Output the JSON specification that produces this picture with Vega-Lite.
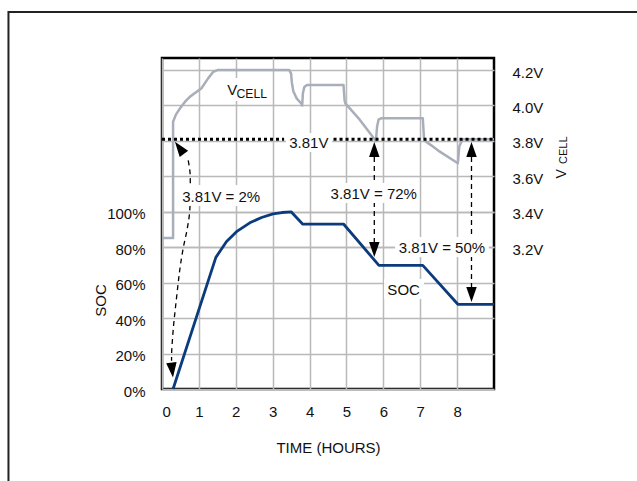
{
  "$schema": "https://vega.github.io/schema/vega-lite/v6.json",
  "width": 332,
  "height": 331,
  "autosize": {"type": "none"},
  "padding": {"left": 162, "top": 58, "right": 143, "bottom": 92},
  "background": "white",
  "config": {
    "font": "Liberation Sans",
    "view": {"stroke": "black", "strokeWidth": 2.5},
    "axis": {
      "labelFont": "Liberation Sans",
      "labelFontSize": 15,
      "labelColor": "#111111",
      "titleFont": "Liberation Sans",
      "titleFontSize": 15,
      "titleFontWeight": "normal",
      "titleColor": "#111111",
      "ticks": false,
      "domain": false,
      "gridColor": "#b9b9b9",
      "gridWidth": 1.5,
      "gridOpacity": 1
    },
    "text": {"font": "Liberation Sans", "fontSize": 15, "color": "#111111"}
  },
  "datasets": {
    "vcell": [
      {"t": 0, "v": 3.252}, {"t": 0.3, "v": 3.252}, {"t": 0.3, "v": 3.908},
      {"t": 0.38, "v": 3.95}, {"t": 0.49, "v": 3.984}, {"t": 0.62, "v": 4.02},
      {"t": 0.76, "v": 4.05}, {"t": 1.07, "v": 4.097}, {"t": 1.25, "v": 4.153},
      {"t": 1.39, "v": 4.19}, {"t": 1.5, "v": 4.2}, {"t": 3.45, "v": 4.2},
      {"t": 3.5, "v": 4.18}, {"t": 3.52, "v": 4.13}, {"t": 3.56, "v": 4.08},
      {"t": 3.65, "v": 4.04}, {"t": 3.78, "v": 4.01}, {"t": 3.8, "v": 4.0},
      {"t": 3.82, "v": 4.07}, {"t": 3.86, "v": 4.105}, {"t": 3.93, "v": 4.116},
      {"t": 4.92, "v": 4.116}, {"t": 4.95, "v": 4.03}, {"t": 4.97, "v": 4.012},
      {"t": 5.36, "v": 3.92}, {"t": 5.8, "v": 3.8}, {"t": 5.83, "v": 3.88},
      {"t": 5.87, "v": 3.92}, {"t": 5.95, "v": 3.928}, {"t": 7.07, "v": 3.928},
      {"t": 7.1, "v": 3.82}, {"t": 7.13, "v": 3.8}, {"t": 7.3, "v": 3.775},
      {"t": 7.52, "v": 3.741}, {"t": 8.02, "v": 3.674}, {"t": 8.06, "v": 3.77},
      {"t": 8.15, "v": 3.81}, {"t": 9, "v": 3.81}
    ],
    "soc": [
      {"t": 0.3, "soc": 0}, {"t": 1.46, "soc": 74.3}, {"t": 1.75, "soc": 83.2},
      {"t": 2.02, "soc": 88.8}, {"t": 2.38, "soc": 93.8}, {"t": 2.7, "soc": 96.8},
      {"t": 3.01, "soc": 98.8}, {"t": 3.25, "soc": 99.6}, {"t": 3.5, "soc": 100},
      {"t": 3.81, "soc": 93.1}, {"t": 4.92, "soc": 93.1}, {"t": 5.88, "soc": 69.8},
      {"t": 7.07, "soc": 69.8}, {"t": 8.02, "soc": 47.8}, {"t": 9, "soc": 47.8}
    ]
  },
  "encoding": {
    "x": {
      "field": "t", "type": "quantitative", "scale": {"domain": [0, 9], "nice": false},
      "axis": {
        "values": [0, 1, 2, 3, 4, 5, 6, 7, 8],
        "format": "d",
        "grid": true,
        "labelPadding": 15,
        "title": "TIME (HOURS)",
        "titleBaseline": "alphabetic",
        "titleY": 63
      }
    }
  },
  "layer": [
    {
      "data": {"name": "vcell"},
      "mark": {"type": "line", "color": "#a9aebb", "strokeWidth": 2.5, "strokeJoin": "round"},
      "encoding": {
        "y": {
          "field": "v", "type": "quantitative",
          "scale": {"domain": [2.4, 4.268], "nice": false, "zero": false},
          "axis": {
            "orient": "right",
            "values": [3.2, 3.4, 3.6, 3.8, 4.0, 4.2],
            "labelExpr": "format(datum.value, '.1f') + 'V'",
            "grid": true,
            "labelPadding": 18,
            "labelAlign": "left",
            "labelOffset": 2,
            "title": null
          }
        }
      }
    },
    {
      "data": {"name": "soc"},
      "mark": {"type": "line", "color": "#0b3b7c", "strokeWidth": 2.8, "strokeJoin": "round"},
      "encoding": {
        "y": {
          "field": "soc", "type": "quantitative",
          "scale": {"domain": [0, 186.8], "nice": false, "zero": false},
          "axis": {
            "orient": "left",
            "values": [0, 20, 40, 60, 80, 100],
            "labelExpr": "datum.value + '%'",
            "grid": true,
            "labelPadding": 17,
            "labelOffset": 2,
            "title": "SOC",
            "titleAngle": 270,
            "titleX": -57,
            "titleY": 242,
            "titleAlign": "center",
            "titleBaseline": "alphabetic"
          }
        }
      }
    },
    {
      "data": {"values": [{"t": 0, "t2": 3.31}, {"t": 4.65, "t2": 9}]},
      "mark": {"type": "rule", "color": "black", "strokeWidth": 3, "strokeDash": [3, 3]},
      "encoding": {
        "x2": {"field": "t2"},
        "y": {"datum": 3.81, "type": "quantitative", "scale": {"domain": [2.4, 4.268], "nice": false, "zero": false}, "axis": null}
      }
    },
    {
      "data": {"values": [{"t": 10.94, "v": 3.588, "label": "V"}]},
      "mark": {"type": "text", "angle": 270, "align": "left", "baseline": "alphabetic", "fontSize": 14},
      "encoding": {
        "y": {"field": "v", "type": "quantitative", "scale": {"domain": [2.4, 4.268], "nice": false, "zero": false}, "axis": null},
        "text": {"field": "label"}
      }
    },
    {
      "data": {"values": [{"t": 10.98, "v": 3.67, "label": "CELL"}]},
      "mark": {"type": "text", "angle": 270, "align": "left", "baseline": "alphabetic", "fontSize": 11},
      "encoding": {
        "y": {"field": "v", "type": "quantitative", "scale": {"domain": [2.4, 4.268], "nice": false, "zero": false}, "axis": null},
        "text": {"field": "label"}
      }
    },
    {
      "data": {"values": [{"t": -4.162, "t2": 14, "s": -60, "s2": 212.7}]},
      "mark": {"type": "rect", "filled": false, "stroke": "#222222", "strokeWidth": 2},
      "encoding": {
        "x2": {"field": "t2"},
        "y": {"field": "s", "type": "quantitative", "scale": {"domain": [0, 186.8], "nice": false, "zero": false}, "axis": null},
        "y2": {"field": "s2"}
      }
    },
    {
      "data": {
        "values": [
          {"arrow": "a1", "i": 0, "t": 0.71, "s": 129}, {"arrow": "a1", "i": 1, "t": 0.76, "s": 122},
          {"arrow": "a1", "i": 2, "t": 0.765, "s": 112}, {"arrow": "a1", "i": 3, "t": 0.75, "s": 100},
          {"arrow": "a1", "i": 4, "t": 0.68, "s": 90}, {"arrow": "a1", "i": 5, "t": 0.58, "s": 80},
          {"arrow": "a1", "i": 6, "t": 0.5, "s": 70}, {"arrow": "a1", "i": 7, "t": 0.44, "s": 60},
          {"arrow": "a1", "i": 8, "t": 0.37, "s": 47}, {"arrow": "a1", "i": 9, "t": 0.31, "s": 35},
          {"arrow": "a1", "i": 10, "t": 0.265, "s": 22}, {"arrow": "a1", "i": 11, "t": 0.26, "s": 16},
          {"arrow": "a2", "i": 0, "t": 5.755, "s": 136}, {"arrow": "a2", "i": 1, "t": 5.755, "s": 79},
          {"arrow": "a3", "i": 0, "t": 8.39, "s": 136}, {"arrow": "a3", "i": 1, "t": 8.39, "s": 54}
        ]
      },
      "mark": {"type": "line", "color": "black", "strokeWidth": 1.3, "strokeDash": [5, 4], "interpolate": "cardinal"},
      "encoding": {
        "y": {"field": "s", "type": "quantitative", "scale": {"domain": [0, 186.8], "nice": false, "zero": false}, "axis": null},
        "detail": {"field": "arrow"},
        "order": {"field": "i", "type": "quantitative"}
      }
    },
    {
      "data": {"values": [{"t": 5.755, "s": 78.7}, {"t": 8.39, "s": 53.3}]},
      "mark": {"type": "point", "shape": "M0,1L-0.7,-1L0.7,-1Z", "size": 225, "filled": true, "fill": "black", "strokeWidth": 0, "opacity": 1, "angle": 0},
      "encoding": {
        "y": {"field": "s", "type": "quantitative", "scale": {"domain": [0, 186.8], "nice": false, "zero": false}, "axis": null}
      }
    },
    {
      "data": {"values": [{"t": 5.755, "s": 135.2}, {"t": 8.39, "s": 135.2}]},
      "mark": {"type": "point", "shape": "M0,1L-0.7,-1L0.7,-1Z", "size": 225, "filled": true, "fill": "black", "strokeWidth": 0, "opacity": 1, "angle": 180},
      "encoding": {
        "y": {"field": "s", "type": "quantitative", "scale": {"domain": [0, 186.8], "nice": false, "zero": false}, "axis": null}
      }
    },
    {
      "data": {"values": [{"t": 0.472, "s": 136.1}]},
      "mark": {"type": "point", "shape": "M0,1L-0.7,-1L0.7,-1Z", "size": 225, "filled": true, "fill": "black", "strokeWidth": 0, "opacity": 1, "angle": 143},
      "encoding": {
        "y": {"field": "s", "type": "quantitative", "scale": {"domain": [0, 186.8], "nice": false, "zero": false}, "axis": null}
      }
    },
    {
      "data": {"values": [{"t": 0.276, "s": 10.7}]},
      "mark": {"type": "point", "shape": "M0,1L-0.7,-1L0.7,-1Z", "size": 225, "filled": true, "fill": "black", "strokeWidth": 0, "opacity": 1, "angle": -6},
      "encoding": {
        "y": {"field": "s", "type": "quantitative", "scale": {"domain": [0, 186.8], "nice": false, "zero": false}, "axis": null}
      }
    },
    {
      "data": {
        "values": [
          {"t": 1.68, "t2": 2.95, "s": 162.5, "s2": 175.5},
          {"t": 3.36, "t2": 4.61, "s": 133.7, "s2": 144.5},
          {"t": 0.46, "t2": 2.74, "s": 103.3, "s2": 115.1},
          {"t": 4.47, "t2": 6.97, "s": 105.0, "s2": 116.3},
          {"t": 6.32, "t2": 8.86, "s": 74.5, "s2": 85.8},
          {"t": 6.02, "t2": 7.1, "s": 50.8, "s2": 62.1}
        ]
      },
      "mark": {"type": "rect", "fill": "white", "strokeWidth": 0},
      "encoding": {
        "x2": {"field": "t2"},
        "y": {"field": "s", "type": "quantitative", "scale": {"domain": [0, 186.8], "nice": false, "zero": false}, "axis": null},
        "y2": {"field": "s2"}
      }
    },
    {
      "data": {
        "values": [
          {"t": 3.98, "s": 135.8, "label": "3.81V"},
          {"t": 1.605, "s": 105.4, "label": "3.81V = 2%"},
          {"t": 5.74, "s": 107.1, "label": "3.81V = 72%"},
          {"t": 7.59, "s": 76.6, "label": "3.81V = 50%"},
          {"t": 6.55, "s": 53.0, "label": "SOC"}
        ]
      },
      "mark": {"type": "text", "align": "center", "baseline": "alphabetic", "fontSize": 15},
      "encoding": {
        "y": {"field": "s", "type": "quantitative", "scale": {"domain": [0, 186.8], "nice": false, "zero": false}, "axis": null},
        "text": {"field": "label"}
      }
    },
    {
      "data": {"values": [{"t": 1.77, "s": 165.9, "label": "V"}]},
      "mark": {"type": "text", "align": "left", "baseline": "alphabetic", "fontSize": 15},
      "encoding": {
        "y": {"field": "s", "type": "quantitative", "scale": {"domain": [0, 186.8], "nice": false, "zero": false}, "axis": null},
        "text": {"field": "label"}
      }
    },
    {
      "data": {"values": [{"t": 2.02, "s": 164.0, "label": "CELL"}]},
      "mark": {"type": "text", "align": "left", "baseline": "alphabetic", "fontSize": 12.2},
      "encoding": {
        "y": {"field": "s", "type": "quantitative", "scale": {"domain": [0, 186.8], "nice": false, "zero": false}, "axis": null},
        "text": {"field": "label"}
      }
    }
  ],
  "resolve": {"scale": {"y": "independent"}}
}
